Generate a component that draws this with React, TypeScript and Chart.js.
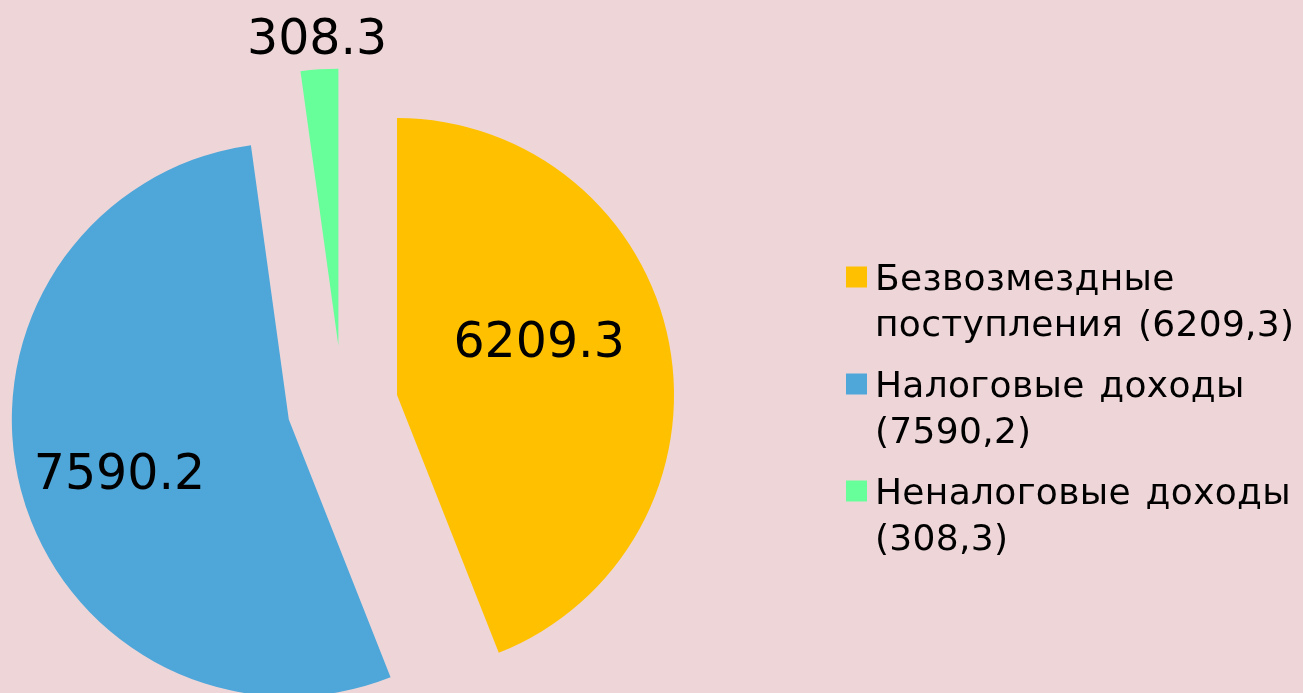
import React, { useEffect, useRef } from "react";
import { Chart, registerables } from "chart.js";

Chart.register(...registerables);

// ---- Data ----
const categories = ["Безвозмездные поступления", "Налоговые доходы", "Неналоговые доходы"];
const values = [6209.3, 7590.2, 308.3];
const colors = ["#FFC000", "#4EA6D9", "#66FF99"];

// ---- Layout / style constants ----
const W = 1303;
const H = 693;
const RADIUS = 277;
const EXPLODE = [55.5, 55.5, 60];
const LABEL_PLACE = [
  { r: 0.552, da: -10.9 },
  { r: 0.639, da: -2.2 },
  { r: 1.12, da: 0 },
];
const LABEL_FONT = 49;
const LEGEND = {
  squareX: 846,
  square: 21,
  textX: 875,
  firstBaseline: 289.5,
  lineHeight: 46,
  entryGap: 15,
  font: 36,
  letterSpacing: 0.3,
  wordSpacing: 3,
  maxWidth: 440,
};

const fmtLegend = (v: number) => v.toFixed(1).replace(".", ",");

const explodePlugin = {
  id: "explode",
  afterDatasetUpdate(chart: any, args: any) {
    const meta = args.meta;
    meta.data.forEach((el: any, i: number) => {
      const mid = (el.startAngle + el.endAngle) / 2;
      const d = EXPLODE[i] || 0;
      el.x = el.x + Math.cos(mid) * d;
      el.y = el.y + Math.sin(mid) * d;
    });
  },
};

const labelPlugin = {
  id: "sliceLabels",
  afterDatasetsDraw(chart: any) {
    const ctx = chart.ctx as CanvasRenderingContext2D;
    const meta = chart.getDatasetMeta(0);
    const data = chart.data.datasets[0].data as number[];
    ctx.save();
    ctx.font = `${LABEL_FONT}px "DejaVu Sans", Verdana, sans-serif`;
    ctx.fillStyle = "#000";
    ctx.textAlign = "center";
    ctx.textBaseline = "alphabetic";
    meta.data.forEach((el: any, i: number) => {
      const p = LABEL_PLACE[i];
      const ang = (el.startAngle + el.endAngle) / 2 + (p.da * Math.PI) / 180;
      const r = p.r * el.outerRadius;
      const x = el.x + Math.cos(ang) * r;
      const y = el.y + Math.sin(ang) * r;
      ctx.fillText(data[i].toFixed(1), x, y + 0.3645 * LABEL_FONT);
    });
    ctx.restore();
  },
};

function wrapText(ctx: CanvasRenderingContext2D, text: string, maxWidth: number): string[] {
  const words = text.split(" ");
  const lines: string[] = [];
  let cur = "";
  for (const w of words) {
    const test = cur ? cur + " " + w : w;
    if (cur && ctx.measureText(test).width > maxWidth) {
      lines.push(cur);
      cur = w;
    } else {
      cur = test;
    }
  }
  if (cur) lines.push(cur);
  return lines;
}

const legendPlugin = {
  id: "sideLegend",
  afterDraw(chart: any) {
    const ctx = chart.ctx as any;
    const labels = chart.data.labels as string[];
    const data = chart.data.datasets[0].data as number[];
    const bg = chart.data.datasets[0].backgroundColor as string[];
    ctx.save();
    ctx.font = `${LEGEND.font}px "DejaVu Sans", Verdana, sans-serif`;
    ctx.letterSpacing = `${LEGEND.letterSpacing}px`;
    ctx.wordSpacing = `${LEGEND.wordSpacing}px`;
    ctx.textAlign = "left";
    ctx.textBaseline = "alphabetic";
    let baseline = LEGEND.firstBaseline;
    labels.forEach((lab, i) => {
      const text = `${lab} (${fmtLegend(data[i])})`;
      const lines = wrapText(ctx, text, LEGEND.maxWidth);
      ctx.fillStyle = bg[i];
      ctx.fillRect(LEGEND.squareX, baseline - 23, LEGEND.square, LEGEND.square);
      ctx.fillStyle = "#000";
      lines.forEach((ln, j) => {
        ctx.fillText(ln, LEGEND.textX, baseline + j * LEGEND.lineHeight);
      });
      baseline += lines.length * LEGEND.lineHeight + LEGEND.entryGap;
    });
    ctx.restore();
  },
};

export default function App() {
  const ref = useRef<HTMLCanvasElement | null>(null);

  useEffect(() => {
    if (!ref.current) return;
    const chart = new Chart(ref.current, {
      type: "pie",
      data: {
        labels: categories,
        datasets: [
          {
            data: values,
            backgroundColor: colors,
            borderWidth: 0,
            clip: false as any,
          } as any,
        ],
      },
      options: {
        responsive: false,
        devicePixelRatio: 1,
        animation: false,
        events: [],
        radius: RADIUS,
        layout: { padding: { left: 0, right: 618, top: 118, bottom: 0 } },
        plugins: {
          legend: { display: false },
          tooltip: { enabled: false },
        },
      } as any,
      plugins: [explodePlugin, labelPlugin, legendPlugin],
    });
    return () => chart.destroy();
  }, []);

  return (
    <div
      style={{
        position: "fixed",
        left: 0,
        top: 0,
        width: W,
        height: H,
        overflow: "hidden",
        background: "#EED6D8",
      }}
    >
      <canvas ref={ref} width={W} height={H} style={{ display: "block", width: W, height: H }} />
    </div>
  );
}
